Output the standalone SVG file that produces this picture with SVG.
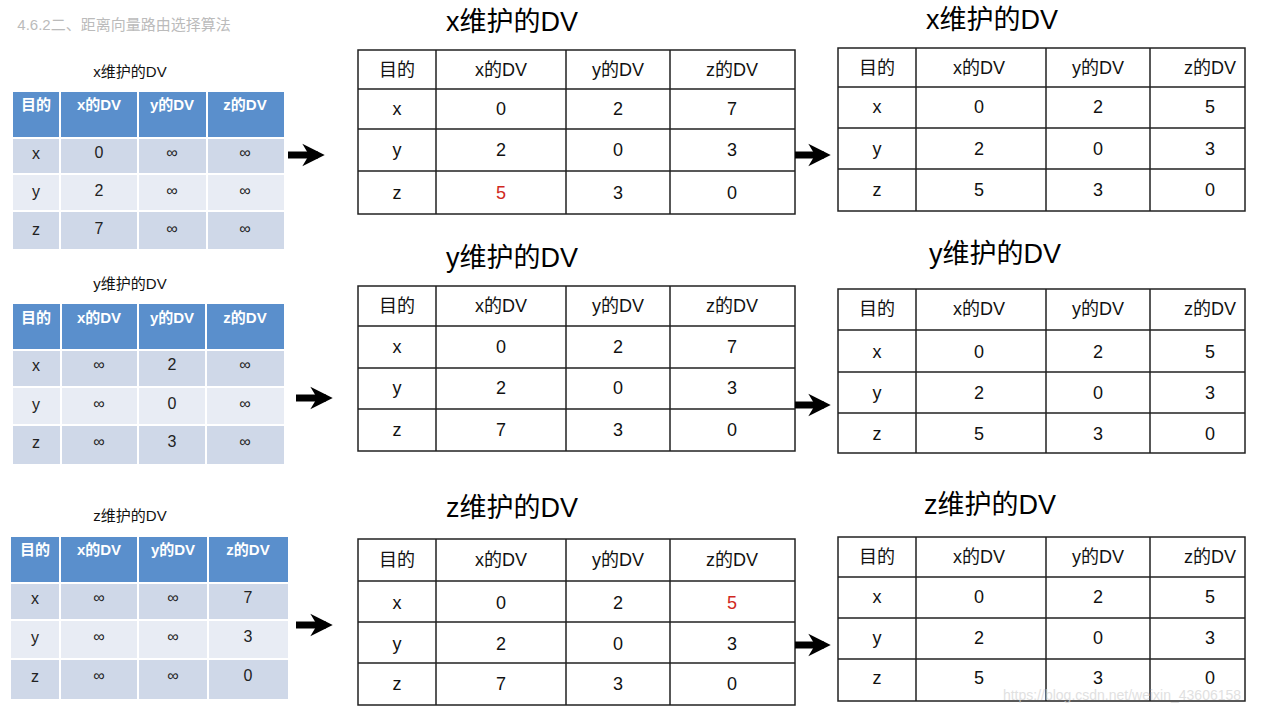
<svg xmlns="http://www.w3.org/2000/svg" width="1288" height="712" viewBox="0 0 1288 712">
<defs><style>
text{font-family:"Liberation Sans","Noto Sans CJK SC",sans-serif;text-anchor:middle;dominant-baseline:central}
.t{font-size:18px;fill:#111}
.tt{font-size:27px;fill:#000}
.st{font-size:15px;fill:#111}
.h{fill:#fff;font-weight:bold;font-size:15px}
.c{font-size:16px;fill:#222}
.hd{fill:#5a8fcc}
.r1{fill:#cfd8e8}
.r2{fill:#e8ecf4}
.g{fill:none;stroke:#222;stroke-width:1.5}
.red{fill:#d0281e}
.ar{stroke:#000;stroke-width:7;fill:none}
</style>
<marker id="ah" viewBox="0 0 10 10" refX="7" refY="5" markerWidth="3.2" markerHeight="4" orient="auto"><path d="M0,0 L10,5 L0,10 L3,5 z" fill="#000"/></marker>
</defs>
<rect width="1288" height="712" fill="#fff"/>
<text x="124" y="24" style="font-size:15px;fill:#bbb">4.6.2二、距离向量路由选择算法</text>

<g id="L1">
<text class="st" x="130" y="71">x维护的DV</text>
<rect class="hd" x="13" y="92" width="271" height="46"/>
<rect class="r1" x="13" y="138" width="271" height="36"/><rect class="r2" x="13" y="174" width="271" height="37"/><rect class="r1" x="13" y="211" width="271" height="38"/>
<path d="M60,92V249M138,92V249M207,92V249M13,138H284M13,174H284M13,211H284" stroke="#fff" stroke-width="2"/>
<text class="h" x="36" y="104">目的</text><text class="h" x="99" y="104">x的DV</text><text class="h" x="172" y="104">y的DV</text><text class="h" x="245" y="104">z的DV</text>
<text class="c" x="36" y="153">x</text><text class="c" x="99" y="152">0</text><text class="c" x="172" y="152">∞</text><text class="c" x="245" y="152">∞</text>
<text class="c" x="36" y="191">y</text><text class="c" x="99" y="190">2</text><text class="c" x="172" y="190">∞</text><text class="c" x="245" y="190">∞</text>
<text class="c" x="36" y="229">z</text><text class="c" x="99" y="228">7</text><text class="c" x="172" y="228">∞</text><text class="c" x="245" y="228">∞</text>
</g>
<g id="L2">
<text class="st" x="130" y="283">y维护的DV</text>
<rect class="hd" x="13" y="304" width="271" height="46"/>
<rect class="r1" x="13" y="350" width="271" height="37"/><rect class="r2" x="13" y="387" width="271" height="38"/><rect class="r1" x="13" y="425" width="271" height="39"/>
<path d="M61,304V464M138,304V464M206,304V464M13,350H284M13,387H284M13,425H284" stroke="#fff" stroke-width="2"/>
<text class="h" x="36" y="317">目的</text><text class="h" x="99" y="317">x的DV</text><text class="h" x="172" y="317">y的DV</text><text class="h" x="245" y="317">z的DV</text>
<text class="c" x="36" y="365">x</text><text class="c" x="99" y="364">∞</text><text class="c" x="172" y="364">2</text><text class="c" x="245" y="364">∞</text>
<text class="c" x="36" y="404">y</text><text class="c" x="99" y="403">∞</text><text class="c" x="172" y="403">0</text><text class="c" x="245" y="403">∞</text>
<text class="c" x="36" y="442">z</text><text class="c" x="99" y="441">∞</text><text class="c" x="172" y="441">3</text><text class="c" x="245" y="441">∞</text>
</g>
<g id="L3">
<text class="st" x="130" y="515">z维护的DV</text>
<rect class="hd" x="11" y="537" width="277" height="46"/>
<rect class="r1" x="11" y="583" width="277" height="37"/><rect class="r2" x="11" y="620" width="277" height="39"/><rect class="r1" x="11" y="659" width="277" height="40"/>
<path d="M60,537V699M138,537V699M208,537V699M11,583H288M11,620H288M11,659H288" stroke="#fff" stroke-width="2"/>
<text class="h" x="35" y="549">目的</text><text class="h" x="99" y="549">x的DV</text><text class="h" x="173" y="549">y的DV</text><text class="h" x="248" y="549">z的DV</text>
<text class="c" x="35" y="598">x</text><text class="c" x="99" y="597">∞</text><text class="c" x="173" y="597">∞</text><text class="c" x="248" y="597">7</text>
<text class="c" x="35" y="637">y</text><text class="c" x="99" y="636">∞</text><text class="c" x="173" y="636">∞</text><text class="c" x="248" y="636">3</text>
<text class="c" x="35" y="676">z</text><text class="c" x="99" y="675">∞</text><text class="c" x="173" y="675">∞</text><text class="c" x="248" y="675">0</text>
</g>

<g id="M1">
<text class="tt" x="512" y="22">x维护的DV</text>
<rect class="g" x="358" y="50" width="437" height="164"/>
<path class="g" d="M436,50V214M566,50V214M670,50V214M358,89H795M358,129H795M358,171H795"/>
<text class="t" x="397" y="70">目的</text><text class="t" x="501" y="70">x的DV</text><text class="t" x="618" y="70">y的DV</text><text class="t" x="732" y="70">z的DV</text>
<text class="t" x="397" y="109">x</text><text class="t" x="501" y="109">0</text><text class="t" x="618" y="109">2</text><text class="t" x="732" y="109">7</text>
<text class="t" x="397" y="150">y</text><text class="t" x="501" y="150">2</text><text class="t" x="618" y="150">0</text><text class="t" x="732" y="150">3</text>
<text class="t" x="397" y="193">z</text><text class="t red" x="501" y="193">5</text><text class="t" x="618" y="193">3</text><text class="t" x="732" y="193">0</text>
</g>
<g id="M2">
<text class="tt" x="512" y="258">y维护的DV</text>
<rect class="g" x="358" y="286" width="437" height="165"/>
<path class="g" d="M436,286V451M566,286V451M670,286V451M358,326H795M358,368H795M358,409H795"/>
<text class="t" x="397" y="306">目的</text><text class="t" x="501" y="306">x的DV</text><text class="t" x="618" y="306">y的DV</text><text class="t" x="732" y="306">z的DV</text>
<text class="t" x="397" y="347">x</text><text class="t" x="501" y="347">0</text><text class="t" x="618" y="347">2</text><text class="t" x="732" y="347">7</text>
<text class="t" x="397" y="388">y</text><text class="t" x="501" y="388">2</text><text class="t" x="618" y="388">0</text><text class="t" x="732" y="388">3</text>
<text class="t" x="397" y="430">z</text><text class="t" x="501" y="430">7</text><text class="t" x="618" y="430">3</text><text class="t" x="732" y="430">0</text>
</g>
<g id="M3">
<text class="tt" x="512" y="508">z维护的DV</text>
<rect class="g" x="358" y="539" width="437" height="166"/>
<path class="g" d="M436,539V705M566,539V705M670,539V705M358,581H795M358,622H795M358,663H795"/>
<text class="t" x="397" y="560">目的</text><text class="t" x="501" y="560">x的DV</text><text class="t" x="618" y="560">y的DV</text><text class="t" x="732" y="560">z的DV</text>
<text class="t" x="397" y="603">x</text><text class="t" x="501" y="603">0</text><text class="t" x="618" y="603">2</text><text class="t red" x="732" y="603">5</text>
<text class="t" x="397" y="644">y</text><text class="t" x="501" y="644">2</text><text class="t" x="618" y="644">0</text><text class="t" x="732" y="644">3</text>
<text class="t" x="397" y="684">z</text><text class="t" x="501" y="684">7</text><text class="t" x="618" y="684">3</text><text class="t" x="732" y="684">0</text>
</g>

<g id="R1">
<text class="tt" x="992" y="20">x维护的DV</text>
<rect class="g" x="838" y="48" width="407" height="163"/>
<path class="g" d="M916,48V211M1046,48V211M1150,48V211M838,87H1245M838,128H1245M838,169H1245"/>
<text class="t" x="877" y="68">目的</text><text class="t" x="979" y="68">x的DV</text><text class="t" x="1098" y="68">y的DV</text><text class="t" x="1210" y="68">z的DV</text>
<text class="t" x="877" y="107">x</text><text class="t" x="979" y="107">0</text><text class="t" x="1098" y="107">2</text><text class="t" x="1210" y="107">5</text>
<text class="t" x="877" y="149">y</text><text class="t" x="979" y="149">2</text><text class="t" x="1098" y="149">0</text><text class="t" x="1210" y="149">3</text>
<text class="t" x="877" y="190">z</text><text class="t" x="979" y="190">5</text><text class="t" x="1098" y="190">3</text><text class="t" x="1210" y="190">0</text>
</g>
<g id="R2">
<text class="tt" x="995" y="254">y维护的DV</text>
<rect class="g" x="838" y="289" width="407" height="164"/>
<path class="g" d="M916,289V453M1046,289V453M1150,289V453M838,330H1245M838,372H1245M838,413H1245"/>
<text class="t" x="877" y="309">目的</text><text class="t" x="979" y="309">x的DV</text><text class="t" x="1098" y="309">y的DV</text><text class="t" x="1210" y="309">z的DV</text>
<text class="t" x="877" y="352">x</text><text class="t" x="979" y="352">0</text><text class="t" x="1098" y="352">2</text><text class="t" x="1210" y="352">5</text>
<text class="t" x="877" y="393">y</text><text class="t" x="979" y="393">2</text><text class="t" x="1098" y="393">0</text><text class="t" x="1210" y="393">3</text>
<text class="t" x="877" y="434">z</text><text class="t" x="979" y="434">5</text><text class="t" x="1098" y="434">3</text><text class="t" x="1210" y="434">0</text>
</g>
<g id="R3">
<text class="tt" x="990" y="505">z维护的DV</text>
<rect class="g" x="838" y="537" width="407" height="164"/>
<path class="g" d="M916,537V701M1046,537V701M1150,537V701M838,577H1245M838,618H1245M838,659H1245"/>
<text class="t" x="877" y="557">目的</text><text class="t" x="979" y="557">x的DV</text><text class="t" x="1098" y="557">y的DV</text><text class="t" x="1210" y="557">z的DV</text>
<text class="t" x="877" y="597">x</text><text class="t" x="979" y="597">0</text><text class="t" x="1098" y="597">2</text><text class="t" x="1210" y="597">5</text>
<text class="t" x="877" y="638">y</text><text class="t" x="979" y="638">2</text><text class="t" x="1098" y="638">0</text><text class="t" x="1210" y="638">3</text>
<text class="t" x="877" y="678">z</text><text class="t" x="979" y="678">5</text><text class="t" x="1098" y="678">3</text><text class="t" x="1210" y="678">0</text>
</g>

<g id="connectors">
<path class="ar" d="M288,155H318" marker-end="url(#ah)"/>
<path class="ar" d="M296,398H326" marker-end="url(#ah)"/>
<path class="ar" d="M296,625H326" marker-end="url(#ah)"/>
<path class="ar" d="M795,155H824" marker-end="url(#ah)"/>
<path class="ar" d="M795,405H824" marker-end="url(#ah)"/>
<path class="ar" d="M795,645H824" marker-end="url(#ah)"/>
</g>
<text x="1122" y="695" style="font-size:14px;fill:#d4d4d4;opacity:0.7">https://blog.csdn.net/weixin_43606158</text>
</svg>
